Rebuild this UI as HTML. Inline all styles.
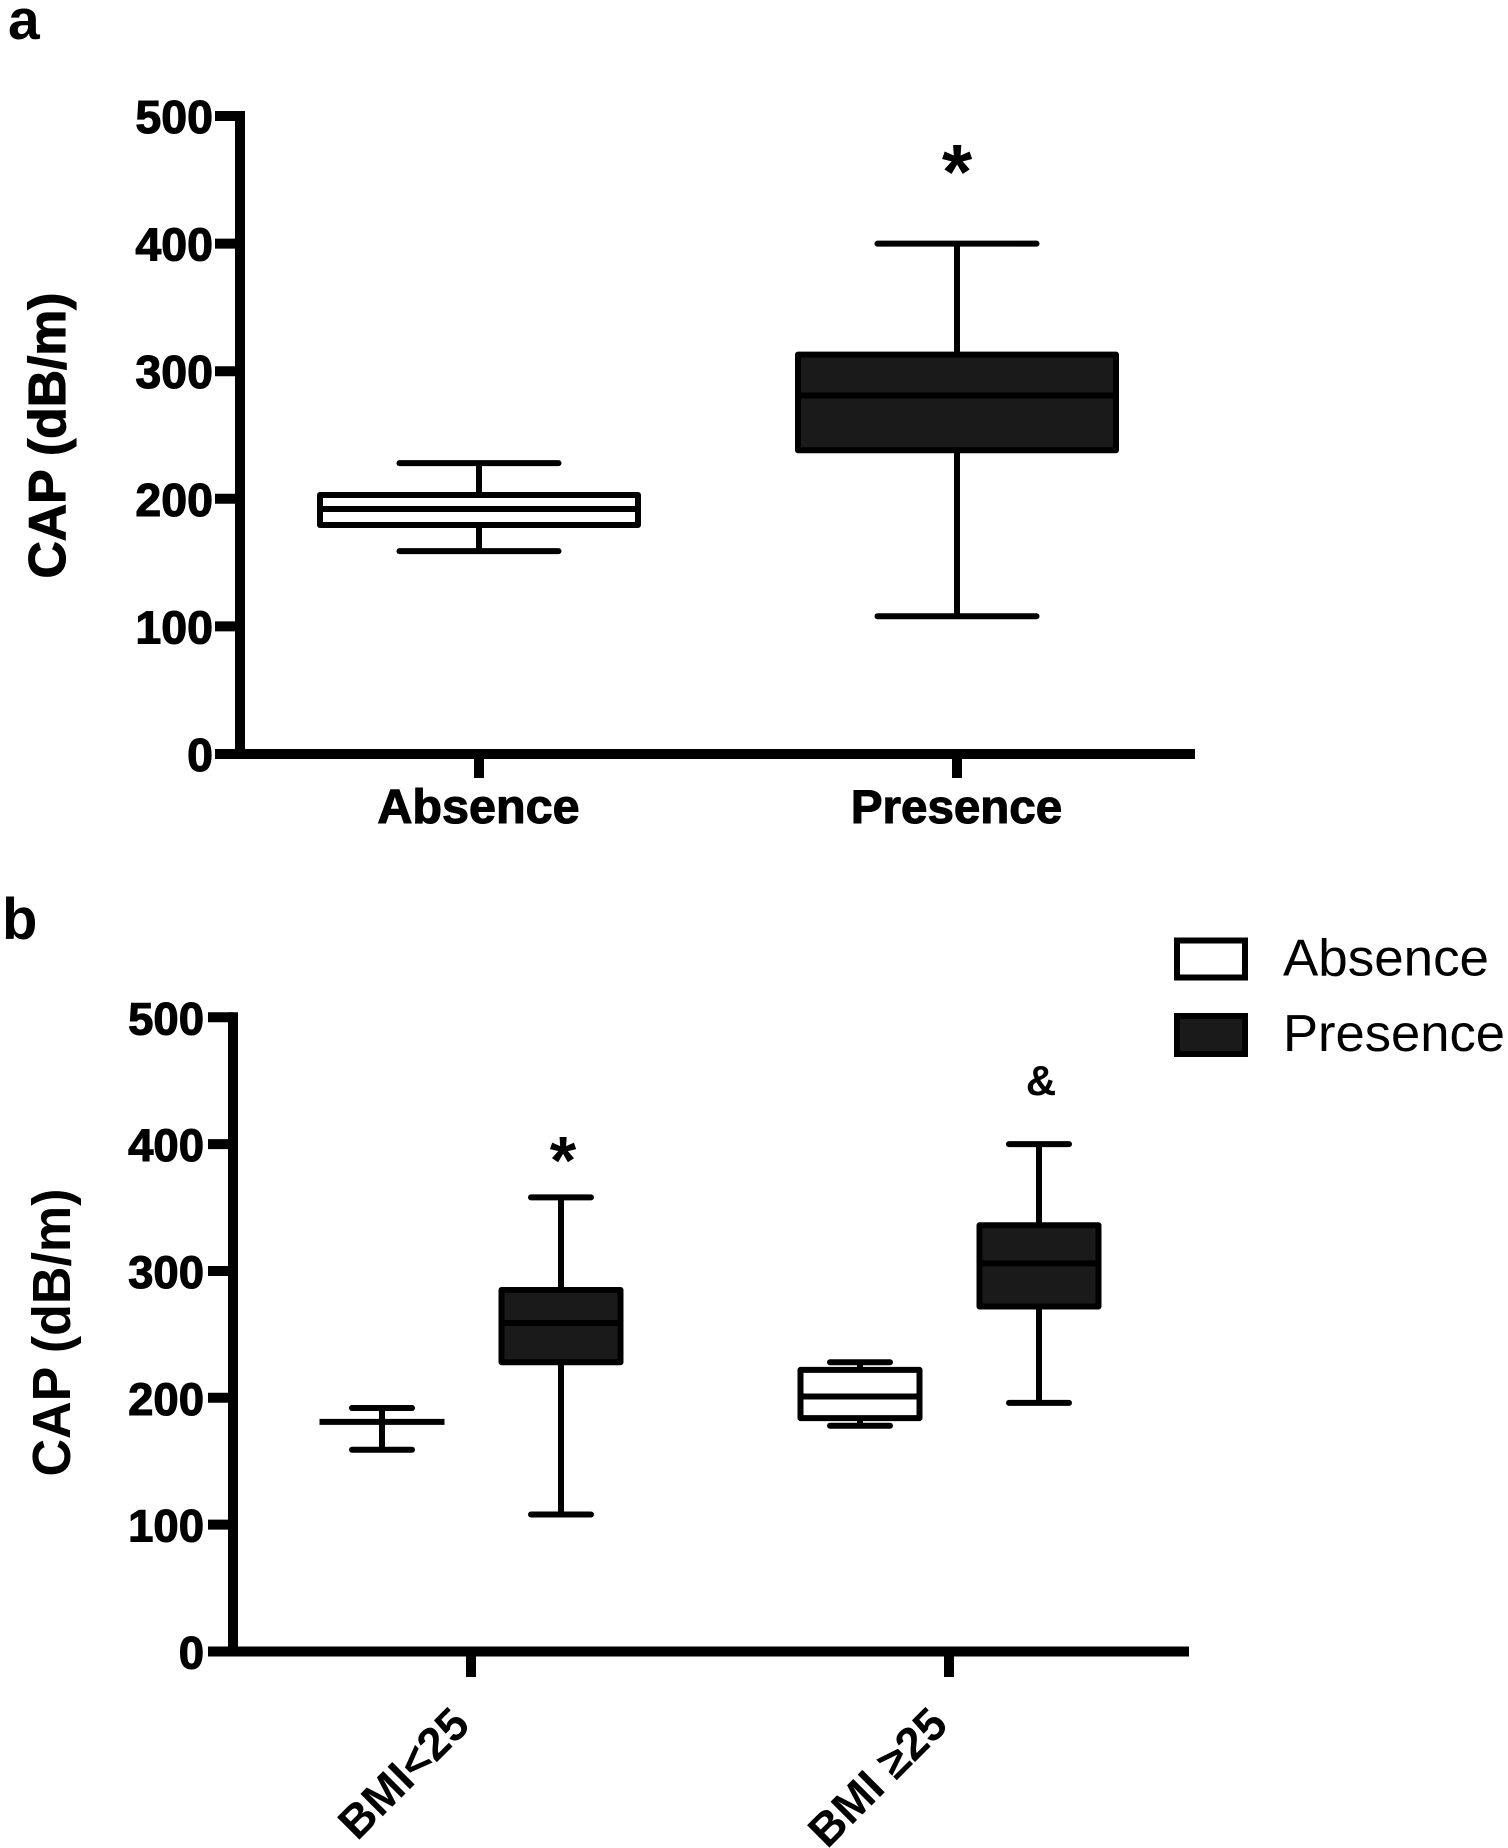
<!DOCTYPE html>
<html lang="en">
<head>
<meta charset="utf-8">
<title>CAP box plots</title>
<style>
html,body{margin:0;padding:0;background:#fff;}
svg{display:block;}
text{font-family:"Liberation Sans",Arial,sans-serif;fill:#000;}
.bold{font-weight:bold;}
.heavy{font-weight:bold;stroke:#000;stroke-width:1.1px;}
</style>
</head>
<body>
<svg id="figure" xmlns="http://www.w3.org/2000/svg" width="1508" height="1848" viewBox="0 0 1508 1848">
  <rect x="0" y="0" width="1508" height="1848" fill="#fff"/>
  <text class="bold" x="8" y="39" font-size="57">a</text>
  <text class="bold" x="2" y="939" font-size="58">b</text>
  <g id="panelA">
    <text class="heavy" transform="translate(65 435.5) rotate(-90)" text-anchor="middle" font-size="52" textLength="286" lengthAdjust="spacingAndGlyphs">CAP (dB/m)</text>
  </g>
  <g id="panelB">
    <text class="bold" transform="translate(70 1332.5) rotate(-90)" text-anchor="middle" font-size="54" textLength="288" lengthAdjust="spacingAndGlyphs">CAP (dB/m)</text>
  </g>
  <g>
    <g>
      <rect x="1177" y="940.5" width="68" height="37" fill="#fff" stroke="#000" stroke-width="6"/>
      <text x="1283" y="975.5" font-size="52" textLength="206" lengthAdjust="spacingAndGlyphs">Absence</text>
    </g>
    <g>
      <rect x="1177" y="1016" width="68" height="38" fill="#1a1a1a" stroke="#000" stroke-width="6"/>
      <text x="1283" y="1051" font-size="52" textLength="222" lengthAdjust="spacingAndGlyphs">Presence</text>
    </g>
  </g>
</svg>
<script>
// Shared y-axis tick labels
const yTickValues = [0, 100, 200, 300, 400, 500];

// Panel a data
const panelACategories = ['Absence', 'Presence'];
const panelAWhiskerHigh = [228, 400];
const panelAQ3 = [203, 313];
const panelAMedian = [192, 281];
const panelAQ1 = [179.5, 238];
const panelAWhiskerLow = [159, 108];
const panelAFills = ['#ffffff', '#1a1a1a'];
const panelAAnnotations = ['', '*'];

// Panel b data (order: <25 absence, <25 presence, >=25 absence, >=25 presence)
const panelBGroups = ['BMI<25', 'BMI \u226525'];
const panelBSeries = ['Absence', 'Presence'];
const panelBWhiskerHigh = [192, 358, 228, 400];
const panelBQ3 = [181, 285, 222, 336];
const panelBMedian = [181, 259, 201, 306];
const panelBQ1 = [181, 228, 184, 272];
const panelBWhiskerLow = [159, 108, 178, 196];
const panelBAnnotations = ['', '*', '', '&'];

const SVG_NS = 'http://www.w3.org/2000/svg';

// Axis functions
function yA(v) { return 754 - v * 1.276; }
function xA(i) { return 479 + 478 * i; }
function yB(v) { return 1651.5 - v * 1.2685; }
function xBGroup(g) { return 471 + 478 * g; }
function xB(i) {
  const group = Math.floor(i / 2);
  const side = i % 2 === 0 ? -89 : 90;
  return xBGroup(group) + side;
}

function makeLine(parent, x1, y1, x2, y2, width, cap) {
  const el = document.createElementNS(SVG_NS, 'line');
  el.setAttribute('x1', x1);
  el.setAttribute('y1', y1);
  el.setAttribute('x2', x2);
  el.setAttribute('y2', y2);
  el.setAttribute('stroke', '#000');
  el.setAttribute('stroke-width', width);
  el.setAttribute('stroke-linecap', cap || 'butt');
  parent.appendChild(el);
  return el;
}

function makeText(parent, str, x, y, size, anchor, cls) {
  const el = document.createElementNS(SVG_NS, 'text');
  el.setAttribute('x', x);
  el.setAttribute('y', y);
  el.setAttribute('font-size', size);
  el.setAttribute('text-anchor', anchor);
  el.setAttribute('class', cls);
  el.textContent = str;
  parent.appendChild(el);
  return el;
}

function makeGroup(parent) {
  const el = document.createElementNS(SVG_NS, 'g');
  parent.appendChild(el);
  return el;
}

function drawYAxis(parent, yScale, axisX, tickLeft, labelRight, xEnd, prefix, labelSize) {
  const axisY = makeLine(parent, axisX, yScale(500) - 5, axisX, yScale(0) + 5, 10);
  
  
  const axisX2 = makeLine(parent, axisX - 5, yScale(0), xEnd, yScale(0), 10);
  
  
  yTickValues.forEach(function (v) {
    const tick = makeLine(parent, tickLeft, yScale(v), axisX, yScale(v), 10);
    
    
    const label = makeText(parent, String(v), labelRight, yScale(v) + 17, labelSize, 'end', 'heavy');
    
    
  });
}

function drawBox(parent, cx, hi, q3, med, q1, lo, fill, boxHalf, capHalf, yScale, name) {
  const g = makeGroup(parent);
  
  

  const stem = makeLine(g, cx, yScale(hi), cx, yScale(lo), 6);
  
  

  const capHi = makeLine(g, cx - capHalf, yScale(hi), cx + capHalf, yScale(hi), 6, 'round');
  
  

  const capLo = makeLine(g, cx - capHalf, yScale(lo), cx + capHalf, yScale(lo), 6, 'round');
  
  

  const box = document.createElementNS(SVG_NS, 'rect');
  box.setAttribute('x', cx - boxHalf);
  box.setAttribute('y', yScale(q3));
  box.setAttribute('width', boxHalf * 2);
  box.setAttribute('height', Math.max(0, yScale(q1) - yScale(q3)));
  box.setAttribute('fill', fill);
  box.setAttribute('stroke', '#000');
  box.setAttribute('stroke-width', 6);
  box.setAttribute('stroke-linejoin', 'round');
  
  
  g.appendChild(box);

  const medLine = makeLine(g, cx - boxHalf - 3, yScale(med), cx + boxHalf + 3, yScale(med), 6);
  
  
}

// ---- Panel a ----
const panelA = document.getElementById('panelA');
drawYAxis(panelA, yA, 240, 215, 213, 1195, 'panel-a', 46.5);

panelACategories.forEach(function (cat, i) {
  const tick = makeLine(panelA, xA(i), yA(0), xA(i), 778, 10);
  
  

  const label = makeText(panelA, cat, xA(i) - 0.5, 823, i === 0 ? 48.5 : 47.5, 'middle', 'heavy');
  
  

  drawBox(panelA, xA(i), panelAWhiskerHigh[i], panelAQ3[i], panelAMedian[i], panelAQ1[i], panelAWhiskerLow[i],
    panelAFills[i], 159, 79.5, yA, 'panel-a-box-' + cat.toLowerCase());

  if (panelAAnnotations[i]) {
    const mark = makeText(panelA, panelAAnnotations[i], xA(i), yA(panelAWhiskerHigh[i]) - 45, 78, 'middle', 'bold');
    
    
  }
});

// ---- Panel b ----
const panelB = document.getElementById('panelB');
drawYAxis(panelB, yB, 233, 208, 204, 1189, 'panel-b', 45.5);

panelBGroups.forEach(function (grp, g) {
  const tick = makeLine(panelB, xBGroup(g), yB(0), xBGroup(g), 1677, 10);
  
  

  const label = makeText(panelB, grp, 0, 0, 46, 'end', 'bold');
  label.setAttribute('transform', 'translate(' + (xBGroup(g) + 1) + ' 1727) rotate(-45)');
  
  
});

panelBWhiskerHigh.forEach(function (hi, i) {
  const series = panelBSeries[i % 2];
  const groupNo = Math.floor(i / 2) + 1;
  const fill = i % 2 === 0 ? '#ffffff' : '#1a1a1a';
  drawBox(panelB, xB(i), hi, panelBQ3[i], panelBMedian[i], panelBQ1[i], panelBWhiskerLow[i],
    fill, 59.5, 30, yB, 'panel-b-box-group' + groupNo + '-' + series.toLowerCase());

  if (panelBAnnotations[i]) {
    const isStar = panelBAnnotations[i] === '*';
    const mark = makeText(panelB, panelBAnnotations[i], xB(i) + 2, yB(hi) - (isStar ? 14 : 49), isStar ? 68 : 42, 'middle', 'bold');
    
    
  }
});
</script>
</body>
</html>
